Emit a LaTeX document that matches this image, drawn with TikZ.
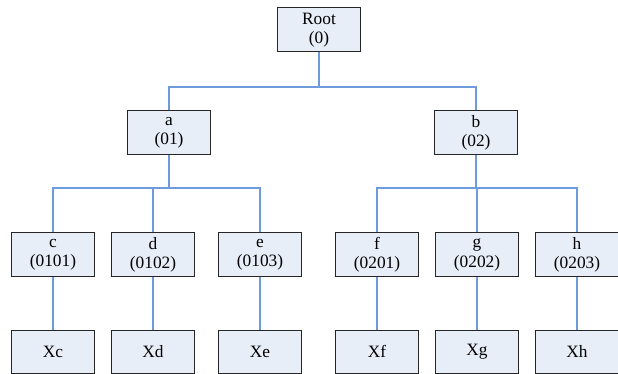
\documentclass[tikz,border=0pt]{standalone}
\usepackage{fontspec}
\setmainfont{Liberation Serif}
\usetikzlibrary{positioning}
\definecolor{boxfill}{HTML}{E8EEF8}
\definecolor{linkblue}{HTML}{6E9BDB}

\tikzset{
    box/.style={draw=black!85, fill=boxfill, line width=0.75pt,
	minimum width=62.25pt, minimum height=33pt, inner sep=0pt,
	align=center, font=\fontsize{13}{14.5}\selectfont},
    leaf/.style={box, minimum height=32.25pt},
    link/.style={draw=linkblue, line width=0.8pt}
}

\begin{document}
\begin{tikzpicture}[x=0.75pt, y=-0.75pt]
    \useasboundingbox (0, 0) rectangle (618, 374);
    % top levels
    \node[box] (root) at (319, 30) {Root\\(0)};
    \node[box] (a) at (169, 133) {a\\(01)};
    \node[box] (b) at (476, 133) {b\\(02)};
    % third level
    \node[box] (c) at (53, 255) {c\\(0101)};
    \node[box] (d) at (153, 255) {d\\(0102)};
    \node[box] (e) at (260, 255) {e\\(0103)};
    \node[box] (f) at (377, 255) {f\\(0201)};
    \node[box] (g) at (477, 255) {g\\(0202)};
    \node[box] (h) at (577, 255) {h\\(0203)};
    % leaves
    \node[leaf] (xc) at (53, 351.5) {Xc};
    \node[leaf] (xd) at (153, 351.5) {Xd};
    \node[leaf] (xe) at (260, 351.5) {Xe};
    \node[leaf] (xf) at (377, 351.5) {Xf};
    \node[leaf] (xg) at (477, 351.5) {Xg};
    \node[leaf] (xh) at (577, 351.5) {Xh};
    \coordinate (rj) at (319, 87);
    \coordinate (aj) at (169, 188);
    \coordinate (bj) at (476, 188);
    \draw[link] (root.south) -- (rj) -| (a.north);
    \draw[link] (rj) -| (b.north);
    \draw[link] (a.south) -- (aj);
    \foreach \n in {c, d, e}
	\draw[link] (aj) -| (\n.north);
    \draw[link] (b.south) -- (bj);
    \foreach \n in {f, g, h}
	\draw[link] (bj) -| (\n.north);
    \foreach \n in {c, d, e, f, g, h}
	\draw[link] (\n.south) -- (x\n.north);
\end{tikzpicture}
\end{document}
